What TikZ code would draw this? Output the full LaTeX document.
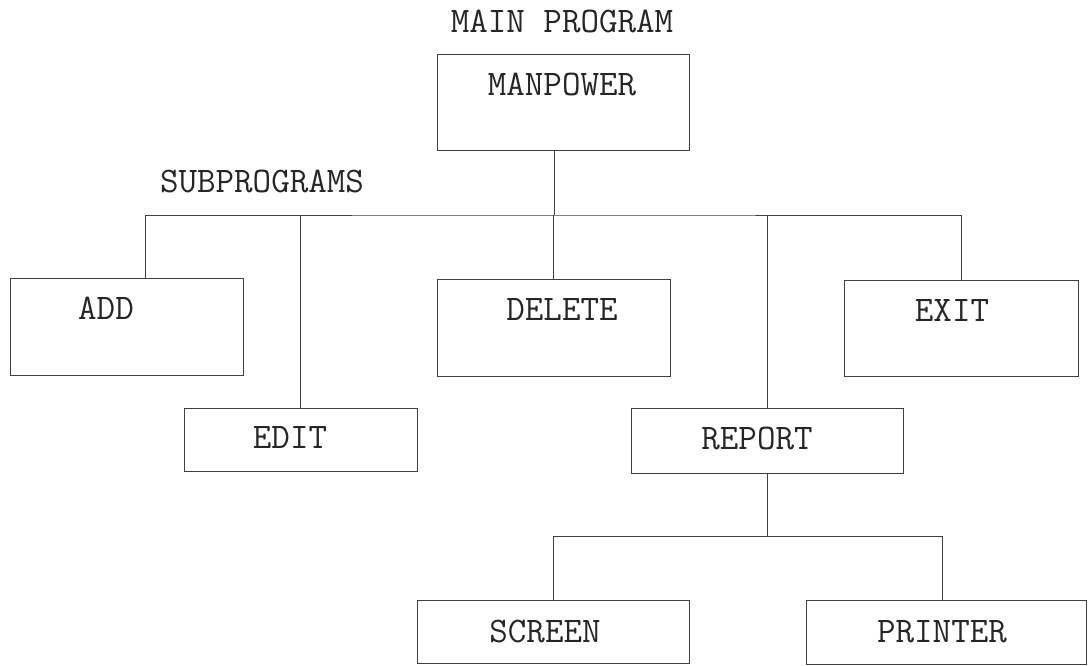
\documentclass[tikz,border=0pt]{standalone}
\usepackage{fontspec}
\usepackage{tikz}

\begin{document}
\begin{tikzpicture}[x=1pt,y=-1pt,
        box/.style={draw=black!75,line width=0.8pt,inner sep=0pt},
        txt/.style={anchor=base,inner sep=0pt,text=black!85,font=\ttfamily\fontsize{36}{40}\selectfont},
        link/.style={draw=black!75,line width=0.8pt}]
        \useasboundingbox (0,0) rectangle (1089,665);
        % main program
        \node[txt] (mainlbl) at (562,32) {MAIN PROGRAM};
        \node[box,minimum width=252,minimum height=96] (man) at (563,102) {};
        \node[txt] (mantxt) at (562,95) {MANPOWER};
        % subprograms
        \node[txt] (sublbl) at (262,192) {SUBPROGRAMS};
        \node[box,minimum width=233,minimum height=97] (add) at (126.5,326.5) {};
        \node[txt] (addtxt) at (106,319) {ADD};
        \node[box,minimum width=233,minimum height=63] (edit) at (300.5,439.5) {};
        \node[txt] (edittxt) at (290,448) {EDIT};
        \node[box,minimum width=233,minimum height=97] (del) at (553.5,327.5) {};
        \node[txt] (deltxt) at (562,320) {DELETE};
        \node[box,minimum width=272,minimum height=65] (rep) at (767,440.5) {};
        \node[txt] (reptxt) at (757,449) {REPORT};
        \node[box,minimum width=234,minimum height=96] (exit) at (961,328) {};
        \node[txt] (exittxt) at (952,321) {EXIT};
        % report outputs
        \node[box,minimum width=272,minimum height=63] (scr) at (553,631.5) {};
        \node[txt] (scrtxt) at (545,642) {SCREEN};
        \node[box,minimum width=280,minimum height=64] (prn) at (946,632) {};
        \node[txt] (prntxt) at (942,642) {PRINTER};
        % tree lines
        \coordinate (bar) at (554,215);
        \coordinate (subbar) at (767,536);
        \draw[link] (man.south -| bar) -- (bar);
        \draw[link] ([xshift=18.5]add.north) |- (bar) -| (exit.north);
        \draw[link] (edit.north) -- (edit.north |- bar);
        \draw[link] (del.north) -- (del.north |- bar);
        \draw[link] (rep.north) -- (rep.north |- bar);
        \draw[link] (rep.south) -- (subbar);
        \draw[link] (scr.north) |- (subbar) -| ([xshift=-4]prn.north);
\end{tikzpicture}
\end{document}
